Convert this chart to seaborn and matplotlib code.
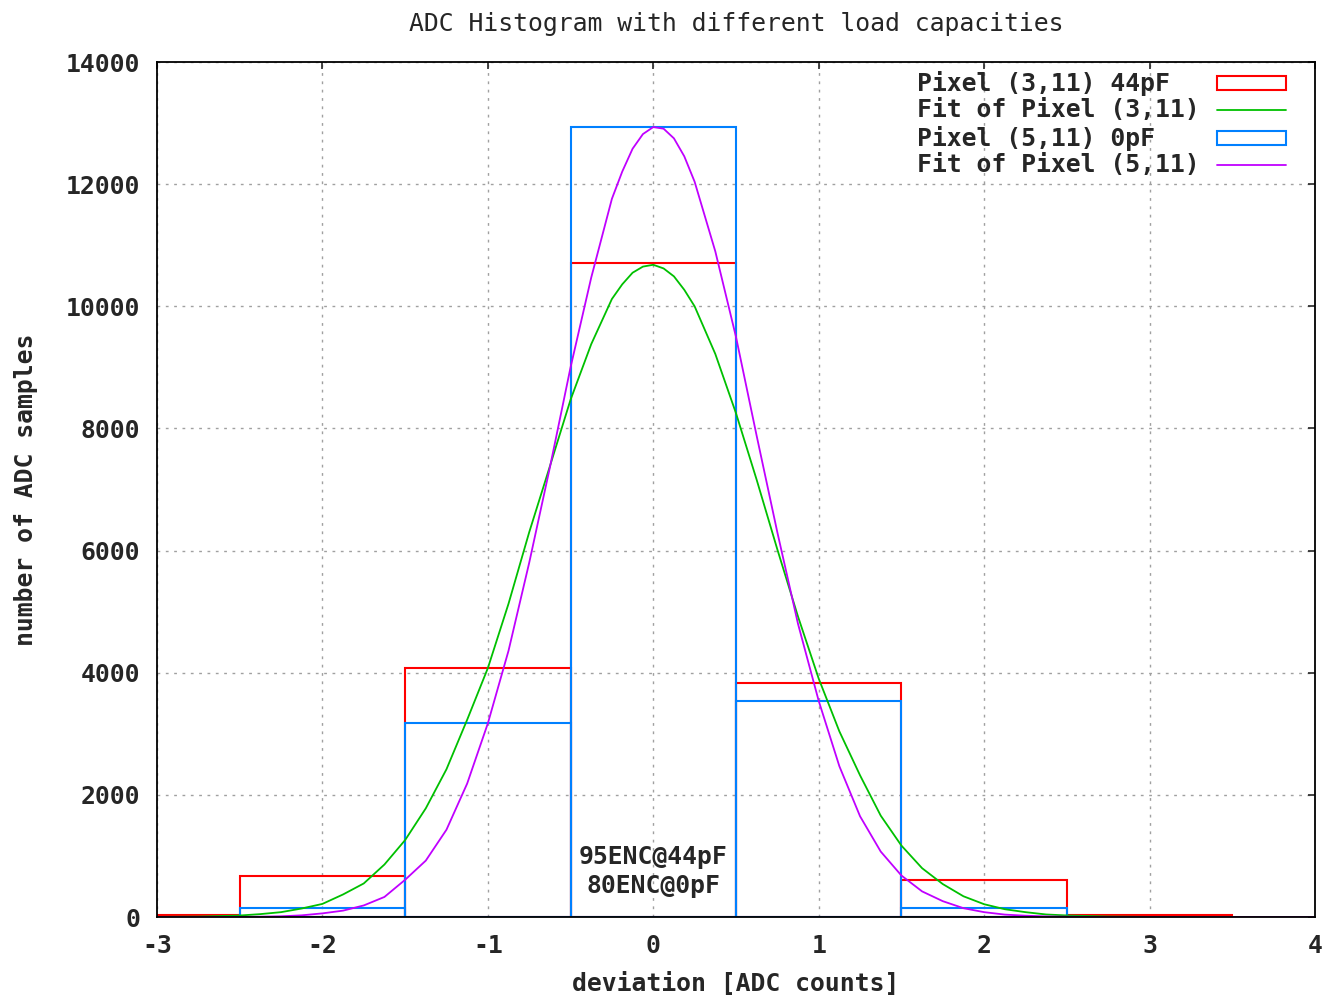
import matplotlib
matplotlib.use('Agg')
import matplotlib.pyplot as plt
import pandas as pd
import seaborn as sns
from matplotlib.patches import Rectangle
from matplotlib.lines import Line2D

# histogram bins (bin centres, counts)
bins_44pF = [-3, -2, -1, 0, 1, 2, 3]
counts_44pF = [35, 670, 4085, 10705, 3840, 600, 40]
bins_0pF = [-2, -1, 0, 1, 2]
counts_0pF = [142, 3182, 12940, 3532, 142]

# fit curves
fit_x = [-3, -2.75, -2.5, -2.375, -2.25, -2.125, -2, -1.875, -1.75, -1.625,
         -1.5, -1.375, -1.25, -1.125, -1, -0.875, -0.75, -0.625, -0.5, -0.375,
         -0.25, -0.1875, -0.125, -0.0625, 0, 0.0625, 0.125, 0.1875, 0.25, 0.375,
         0.5, 0.625, 0.75, 0.875,
         1, 1.125, 1.25, 1.375, 1.5, 1.625, 1.75, 1.875, 2, 2.125,
         2.25, 2.375, 2.5, 2.75, 3, 3.5, 4]
fit_44pF = [2, 7, 25, 48, 80, 140, 215, 370, 550, 860,
            1260, 1780, 2420, 3230, 4075, 5130, 6300, 7380, 8470, 9380,
            10120, 10360, 10550, 10650, 10680, 10620, 10490, 10270, 10000, 9220,
            8250, 7160, 6020, 4920,
            3905, 3040, 2320, 1660, 1170, 800, 540, 340, 210, 128,
            80, 42, 26, 8, 2, 0, 0]
fit_0pF = [0, 0, 2, 5, 12, 28, 60, 105, 190, 329,
           610, 924, 1430, 2185, 3170, 4360, 5800, 7360, 9000, 10470,
           11760, 12206, 12580, 12820, 12935, 12908, 12750, 12456, 12040, 10900,
           9500, 7880, 6300, 4800,
           3540, 2469, 1650, 1072, 680, 420, 260, 145, 80, 40,
           22, 10, 5, 1, 0, 0, 0]

labels = ['Pixel (3,11) 44pF', 'Fit of Pixel (3,11)', 'Pixel (5,11) 0pF', 'Fit of Pixel (5,11)']

red = '#ff0000'
green = '#00c000'
blue = '#0080ff'
magenta = '#c000ff'
fs = 17.8

sns.set_style('white')
plt.rcParams['font.family'] = ['DejaVu Sans Mono']
plt.rcParams['axes.unicode_minus'] = False

fig, ax = plt.subplots(figsize=(13.28, 9.97), dpi=100)
fig.subplots_adjust(left=0.1182, right=0.9902, top=0.9378, bottom=0.0802)

df_44 = pd.DataFrame({'dev': bins_44pF, 'n': counts_44pF})
df_0 = pd.DataFrame({'dev': bins_0pF, 'n': counts_0pF})
df_fit = pd.DataFrame({'x': fit_x, 'f44': fit_44pF, 'f0': fit_0pF})

edges_44 = [b - 0.5 for b in bins_44pF] + [bins_44pF[-1] + 0.5]
edges_0 = [b - 0.5 for b in bins_0pF] + [bins_0pF[-1] + 0.5]

sns.histplot(data=df_44, x='dev', weights='n', bins=edges_44,
             fill=False, element='bars', color=red, linewidth=1.5, ax=ax)
sns.lineplot(data=df_fit, x='x', y='f44', color=green, linewidth=1.3, ax=ax)
sns.histplot(data=df_0, x='dev', weights='n', bins=edges_0,
             fill=False, element='bars', color=blue, linewidth=1.5, ax=ax)
sns.lineplot(data=df_fit, x='x', y='f0', color=magenta, linewidth=1.3, ax=ax)

ax.set_xlim(-3, 4)
ax.set_ylim(0, 14000)
ax.set_xticks(range(-3, 5))
ax.set_yticks(range(0, 14001, 2000))
ax.grid(True, color='#a0a0a0', linestyle=(0, (2, 4)), linewidth=1)
ax.set_axisbelow(True)
ax.tick_params(direction='in', length=5, width=1.2, top=True, right=True,
               labelsize=fs, pad=12)
for lab in ax.get_xticklabels() + ax.get_yticklabels():
    lab.set_fontweight('bold')
for s in ax.spines.values():
    s.set_color('black')
    s.set_linewidth(1.3)

ax.set_xlabel('deviation [ADC counts]', fontsize=fs, fontweight='bold', labelpad=10)
ax.set_ylabel('number of ADC samples', fontsize=fs, fontweight='bold', labelpad=20)
ax.set_title('ADC Histogram with different load capacities', fontsize=fs, pad=22)

ax.text(0, 740, '95ENC@44pF\n80ENC@0pF', ha='center', va='center',
        fontsize=fs, fontweight='bold', linespacing=1.25)

# key, gnuplot style: text left, sample right
rows_y = [0.9754, 0.9433, 0.9111, 0.8795]
styles = [('box', red), ('line', green), ('box', blue), ('line', magenta)]
for yy, lab, (kind, col) in zip(rows_y, labels, styles):
    ax.text(0.6563, yy, lab, transform=ax.transAxes, ha='left', va='center',
            fontsize=fs, fontweight='bold')
    if kind == 'box':
        ax.add_patch(Rectangle((0.9154, yy - 0.0082), 0.0596, 0.0164,
                               transform=ax.transAxes, facecolor='none',
                               edgecolor=col, linewidth=1.5))
    else:
        ax.add_line(Line2D([0.9154, 0.975], [yy, yy], transform=ax.transAxes,
                           color=col, linewidth=1.3))

fig.savefig('out.png', dpi=100)
